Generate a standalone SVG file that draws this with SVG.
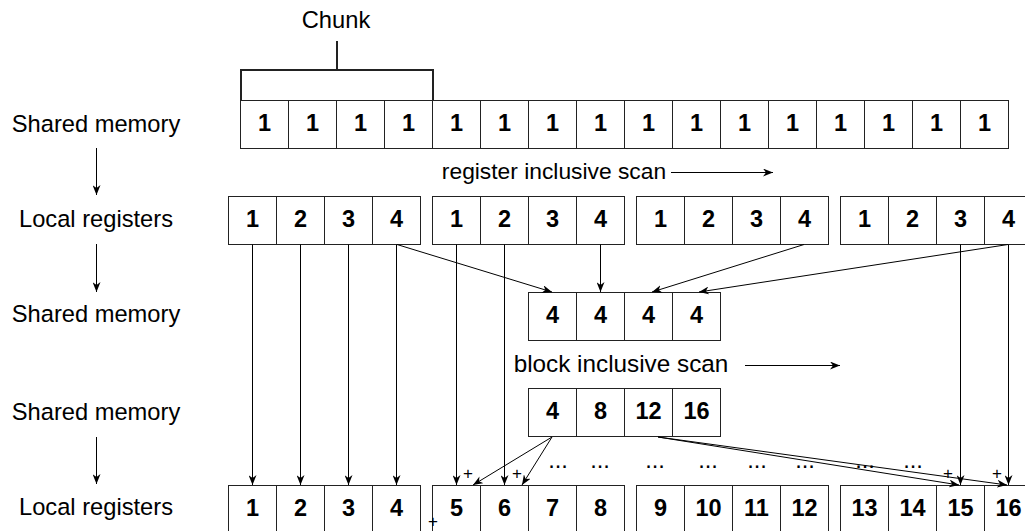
<svg xmlns="http://www.w3.org/2000/svg" width="1025" height="531" viewBox="0 0 1025 531">
<style>
text{font-family:"Liberation Sans",Arial,sans-serif;fill:#000}
.lbl{font-size:23.7px;text-anchor:middle}
.d{font-size:23.5px;font-weight:bold;text-anchor:middle}
.c{fill:#fff;stroke:#222;stroke-width:1}
.ar{fill:none;stroke:#000;stroke-width:1;marker-end:url(#ah)}
.pl{font-size:17px;text-anchor:middle}
.dots{font-size:23.7px;text-anchor:middle}
</style>
<defs>
<marker id="ah" markerUnits="userSpaceOnUse" markerWidth="10" markerHeight="8" viewBox="0 0 10 8" refX="10" refY="4" orient="auto">
<path d="M0,0 L10,4 L0,8 L3,4 Z" fill="#000"/>
</marker>
</defs>
<rect width="1025" height="531" fill="#fff"/>

<g id="labels">
<text class="lbl" x="96" y="131.5">Shared memory</text>
<text class="lbl" x="96" y="226.5">Local registers</text>
<text class="lbl" x="96" y="321.5">Shared memory</text>
<text class="lbl" x="96" y="419.5">Shared memory</text>
<text class="lbl" x="96" y="515">Local registers</text>
</g>

<g id="chunk">
<text class="lbl" x="336" y="28">Chunk</text>
<path d="M241,100 V70 H433 V100 M337,70 V41" fill="none" stroke="#222" stroke-width="2"/>
</g>

<g id="shared1">
<rect class="c" x="240.5" y="100.5" width="48" height="48"/>
<rect class="c" x="288.5" y="100.5" width="48" height="48"/>
<rect class="c" x="336.5" y="100.5" width="48" height="48"/>
<rect class="c" x="384.5" y="100.5" width="48" height="48"/>
<rect class="c" x="432.5" y="100.5" width="48" height="48"/>
<rect class="c" x="480.5" y="100.5" width="48" height="48"/>
<rect class="c" x="528.5" y="100.5" width="48" height="48"/>
<rect class="c" x="576.5" y="100.5" width="48" height="48"/>
<rect class="c" x="624.5" y="100.5" width="48" height="48"/>
<rect class="c" x="672.5" y="100.5" width="48" height="48"/>
<rect class="c" x="720.5" y="100.5" width="48" height="48"/>
<rect class="c" x="768.5" y="100.5" width="48" height="48"/>
<rect class="c" x="816.5" y="100.5" width="48" height="48"/>
<rect class="c" x="864.5" y="100.5" width="48" height="48"/>
<rect class="c" x="912.5" y="100.5" width="48" height="48"/>
<rect class="c" x="960.5" y="100.5" width="48" height="48"/>
<text class="d" x="264.5" y="130.5">1</text>
<text class="d" x="312.5" y="130.5">1</text>
<text class="d" x="360.5" y="130.5">1</text>
<text class="d" x="408.5" y="130.5">1</text>
<text class="d" x="456.5" y="130.5">1</text>
<text class="d" x="504.5" y="130.5">1</text>
<text class="d" x="552.5" y="130.5">1</text>
<text class="d" x="600.5" y="130.5">1</text>
<text class="d" x="648.5" y="130.5">1</text>
<text class="d" x="696.5" y="130.5">1</text>
<text class="d" x="744.5" y="130.5">1</text>
<text class="d" x="792.5" y="130.5">1</text>
<text class="d" x="840.5" y="130.5">1</text>
<text class="d" x="888.5" y="130.5">1</text>
<text class="d" x="936.5" y="130.5">1</text>
<text class="d" x="984.5" y="130.5">1</text>
</g>

<g id="scan-register">
<text class="lbl" x="554" y="179" style="font-size:22.8px">register inclusive scan</text>
</g>

<g id="regs1-a">
<rect class="c" x="228.5" y="196.5" width="48" height="48"/>
<rect class="c" x="276.5" y="196.5" width="48" height="48"/>
<rect class="c" x="324.5" y="196.5" width="48" height="48"/>
<rect class="c" x="372.5" y="196.5" width="48" height="48"/>
<text class="d" x="252.5" y="227">1</text>
<text class="d" x="300.5" y="227">2</text>
<text class="d" x="348.5" y="227">3</text>
<text class="d" x="396.5" y="227">4</text>
</g>
<g id="regs1-b">
<rect class="c" x="432.5" y="196.5" width="48" height="48"/>
<rect class="c" x="480.5" y="196.5" width="48" height="48"/>
<rect class="c" x="528.5" y="196.5" width="48" height="48"/>
<rect class="c" x="576.5" y="196.5" width="48" height="48"/>
<text class="d" x="456.5" y="227">1</text>
<text class="d" x="504.5" y="227">2</text>
<text class="d" x="552.5" y="227">3</text>
<text class="d" x="600.5" y="227">4</text>
</g>
<g id="regs1-c">
<rect class="c" x="636.5" y="196.5" width="48" height="48"/>
<rect class="c" x="684.5" y="196.5" width="48" height="48"/>
<rect class="c" x="732.5" y="196.5" width="48" height="48"/>
<rect class="c" x="780.5" y="196.5" width="48" height="48"/>
<text class="d" x="660.5" y="227">1</text>
<text class="d" x="708.5" y="227">2</text>
<text class="d" x="756.5" y="227">3</text>
<text class="d" x="804.5" y="227">4</text>
</g>
<g id="regs1-d">
<rect class="c" x="840.5" y="196.5" width="48" height="48"/>
<rect class="c" x="888.5" y="196.5" width="48" height="48"/>
<rect class="c" x="936.5" y="196.5" width="48" height="48"/>
<rect class="c" x="984.5" y="196.5" width="48" height="48"/>
<text class="d" x="864.5" y="227">1</text>
<text class="d" x="912.5" y="227">2</text>
<text class="d" x="960.5" y="227">3</text>
<text class="d" x="1008.5" y="227">4</text>
</g>

<g id="shared2">
<rect class="c" x="528.5" y="292.5" width="48" height="48"/>
<rect class="c" x="576.5" y="292.5" width="48" height="48"/>
<rect class="c" x="624.5" y="292.5" width="48" height="48"/>
<rect class="c" x="672.5" y="292.5" width="48" height="48"/>
<text class="d" x="552.5" y="323">4</text>
<text class="d" x="600.5" y="323">4</text>
<text class="d" x="648.5" y="323">4</text>
<text class="d" x="696.5" y="323">4</text>
</g>

<g id="scan-block">
<text class="lbl" x="621" y="372" style="font-size:24.3px">block inclusive scan</text>
</g>

<g id="shared3">
<rect class="c" x="528.5" y="388.5" width="48" height="48"/>
<rect class="c" x="576.5" y="388.5" width="48" height="48"/>
<rect class="c" x="624.5" y="388.5" width="48" height="48"/>
<rect class="c" x="672.5" y="388.5" width="48" height="48"/>
<text class="d" x="552.5" y="419">4</text>
<text class="d" x="600.5" y="419">8</text>
<text class="d" x="648.5" y="419">12</text>
<text class="d" x="696.5" y="419">16</text>
</g>

<g id="regs2-a">
<rect class="c" x="228.5" y="485.5" width="48" height="48"/>
<rect class="c" x="276.5" y="485.5" width="48" height="48"/>
<rect class="c" x="324.5" y="485.5" width="48" height="48"/>
<rect class="c" x="372.5" y="485.5" width="48" height="48"/>
<text class="d" x="252.5" y="516">1</text>
<text class="d" x="300.5" y="516">2</text>
<text class="d" x="348.5" y="516">3</text>
<text class="d" x="396.5" y="516">4</text>
</g>
<g id="regs2-b">
<rect class="c" x="432.5" y="485.5" width="48" height="48"/>
<rect class="c" x="480.5" y="485.5" width="48" height="48"/>
<rect class="c" x="528.5" y="485.5" width="48" height="48"/>
<rect class="c" x="576.5" y="485.5" width="48" height="48"/>
<text class="d" x="456.5" y="516">5</text>
<text class="d" x="504.5" y="516">6</text>
<text class="d" x="552.5" y="516">7</text>
<text class="d" x="600.5" y="516">8</text>
</g>
<g id="regs2-c">
<rect class="c" x="636.5" y="485.5" width="48" height="48"/>
<rect class="c" x="684.5" y="485.5" width="48" height="48"/>
<rect class="c" x="732.5" y="485.5" width="48" height="48"/>
<rect class="c" x="780.5" y="485.5" width="48" height="48"/>
<text class="d" x="660.5" y="516">9</text>
<text class="d" x="708.5" y="516">10</text>
<text class="d" x="756.5" y="516">11</text>
<text class="d" x="804.5" y="516">12</text>
</g>
<g id="regs2-d">
<rect class="c" x="840.5" y="485.5" width="48" height="48"/>
<rect class="c" x="888.5" y="485.5" width="48" height="48"/>
<rect class="c" x="936.5" y="485.5" width="48" height="48"/>
<rect class="c" x="984.5" y="485.5" width="48" height="48"/>
<text class="d" x="864.5" y="516">13</text>
<text class="d" x="912.5" y="516">14</text>
<text class="d" x="960.5" y="516">15</text>
<text class="d" x="1008.5" y="516">16</text>
</g>

<g id="annotations">
<text class="dots" x="558" y="468">...</text>
<text class="dots" x="600" y="468">...</text>
<text class="dots" x="655" y="468">...</text>
<text class="dots" x="708" y="468">...</text>
<text class="dots" x="757" y="468">...</text>
<text class="dots" x="805" y="468">...</text>
<text class="dots" x="865" y="468">...</text>
<text class="dots" x="913" y="468">...</text>
<text class="pl" x="468" y="479">+</text>
<text class="pl" x="517" y="479">+</text>
<text class="pl" x="948" y="479">+</text>
<text class="pl" x="997" y="479">+</text>
<text class="pl" x="433" y="526.5">+</text>
</g>

<g id="connectors">
<line class="ar" x1="96.5" y1="148" x2="96.5" y2="195"/>
<line class="ar" x1="96.5" y1="244" x2="96.5" y2="292"/>
<line class="ar" x1="96.5" y1="437" x2="96.5" y2="484"/>
<line class="ar" x1="671" y1="172.5" x2="773" y2="172.5"/>
<line class="ar" x1="745" y1="365.5" x2="840" y2="365.5"/>
<line class="ar" x1="252.5" y1="244.5" x2="252.5" y2="485"/>
<line class="ar" x1="300.5" y1="244.5" x2="300.5" y2="485"/>
<line class="ar" x1="348.5" y1="244.5" x2="348.5" y2="485"/>
<line class="ar" x1="396.5" y1="244.5" x2="396.5" y2="485"/>
<line class="ar" x1="456.5" y1="244.5" x2="456.5" y2="485"/>
<line class="ar" x1="504.5" y1="244.5" x2="504.5" y2="485"/>
<line class="ar" x1="960.5" y1="244.5" x2="960.5" y2="485"/>
<line class="ar" x1="1008.5" y1="244.5" x2="1008.5" y2="485"/>
<line class="ar" x1="397" y1="244.5" x2="552" y2="292"/>
<line class="ar" x1="600.5" y1="244.5" x2="600.5" y2="292"/>
<line class="ar" x1="804" y1="244.5" x2="652" y2="292"/>
<line class="ar" x1="1008" y1="244.5" x2="699" y2="292"/>
<line class="ar" x1="552" y1="437" x2="473" y2="485"/>
<line class="ar" x1="552" y1="437" x2="522" y2="485"/>
<line class="ar" x1="658" y1="437" x2="959" y2="485"/>
<line class="ar" x1="658" y1="437" x2="1007" y2="485"/>
</g>
</svg>
